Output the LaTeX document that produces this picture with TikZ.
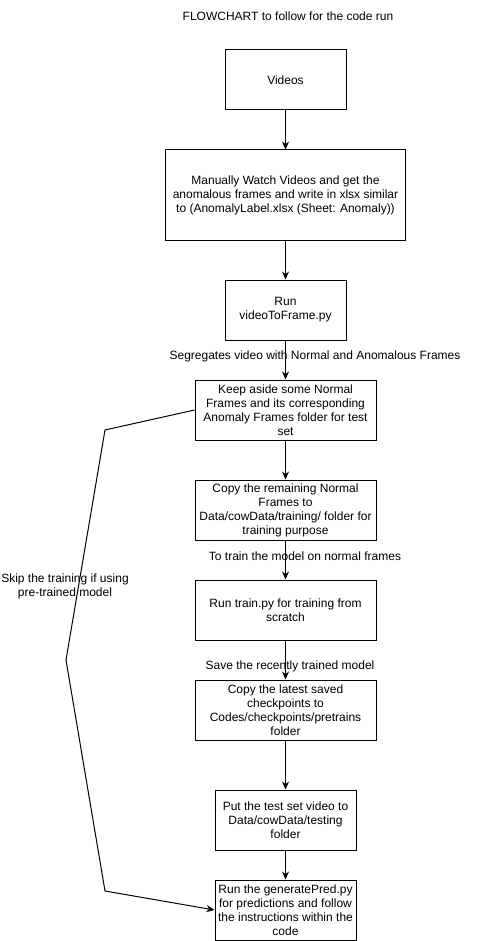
\documentclass[tikz,border=0pt]{standalone}
\usepackage{fontspec}
\setmainfont{Liberation Sans}
\usetikzlibrary{arrows.meta}

\begin{document}
\begin{tikzpicture}[x=1pt, y=-1pt,
  box/.style={draw, line width=1pt, align=center, inner sep=1pt, font=\fontsize{12}{14}\selectfont},
  lbl/.style={align=center, inner sep=0pt, font=\fontsize{12}{14}\selectfont},
  flow/.style={line width=1pt, -{Stealth[length=8pt, width=7pt]}}]
% Fix the page size to the reference
\useasboundingbox (0,0) rectangle (476,941);

% Title
\node[lbl] (title) at (288,16) {FLOWCHART to follow for the code run};

% The steps, top to bottom
\node[box, minimum width=121pt, minimum height=60pt] (videos) at (285.5,80) {Videos};
\node[box, minimum width=240pt, minimum height=90pt] (manual) at (285.5,195) {Manually Watch Videos and get the\\anomalous frames and write in xlsx similar\\to (AnomalyLabel.xlsx (Sheet: Anomaly))};
\node[box, minimum width=121pt, minimum height=60pt] (vtf) at (285.5,310) {Run\\videoToFrame.py};
\node[box, minimum width=181pt, minimum height=60pt] (keep) at (285.5,410) {Keep aside some Normal\\Frames and its corresponding\\Anomaly Frames folder for test\\set};
\node[box, minimum width=181pt, minimum height=60pt] (copyrem) at (285.5,510) {Copy the remaining Normal\\Frames to\\Data/cowData/training/ folder for\\training purpose};
\node[box, minimum width=181pt, minimum height=60pt] (train) at (285.5,610) {Run train.py for training from\\scratch};
\node[box, minimum width=181pt, minimum height=60pt] (copyckpt) at (285.5,710) {Copy the latest saved\\checkpoints to\\Codes/checkpoints/pretrains\\folder};
\node[box, minimum width=141pt, minimum height=60pt] (testset) at (285.5,820) {Put the test set video to\\Data/cowData/testing\\folder};
\node[box, minimum width=141pt, minimum height=60pt] (genpred) at (285.5,910) {Run the generatePred.py\\for predictions and follow\\the instructions within the\\code};

% Edge labels
\node[lbl] (seglbl) at (315,356) {Segregates video with Normal and Anomalous Frames};
\node[lbl] (trainlbl) at (305,556) {To train the model on normal frames};
\node[lbl] (savelbl) at (290,666) {Save the recently trained model};
\node[lbl] (skiplbl) at (65,586) {Skip the training if using\\pre-trained model};

% Main flow
\draw[flow] (videos) -- (manual);
\draw[flow] (manual) -- (vtf);
\draw[flow] (vtf) -- (keep);
\draw[flow] (keep) -- (copyrem);
\draw[flow] (copyrem) -- (train);
\draw[flow] (train) -- (copyckpt);
\draw[flow] (copyckpt) -- (testset);
\draw[flow] (testset) -- (genpred);

% Skip path for pre-trained model
\coordinate (s1) at (105,430);
\coordinate (s2) at (66,660);
\coordinate (s3) at (105,891);
\draw[flow] (keep.west) -- (s1) -- (s2) -- (s3) -- (genpred.west);
\end{tikzpicture}
\end{document}
